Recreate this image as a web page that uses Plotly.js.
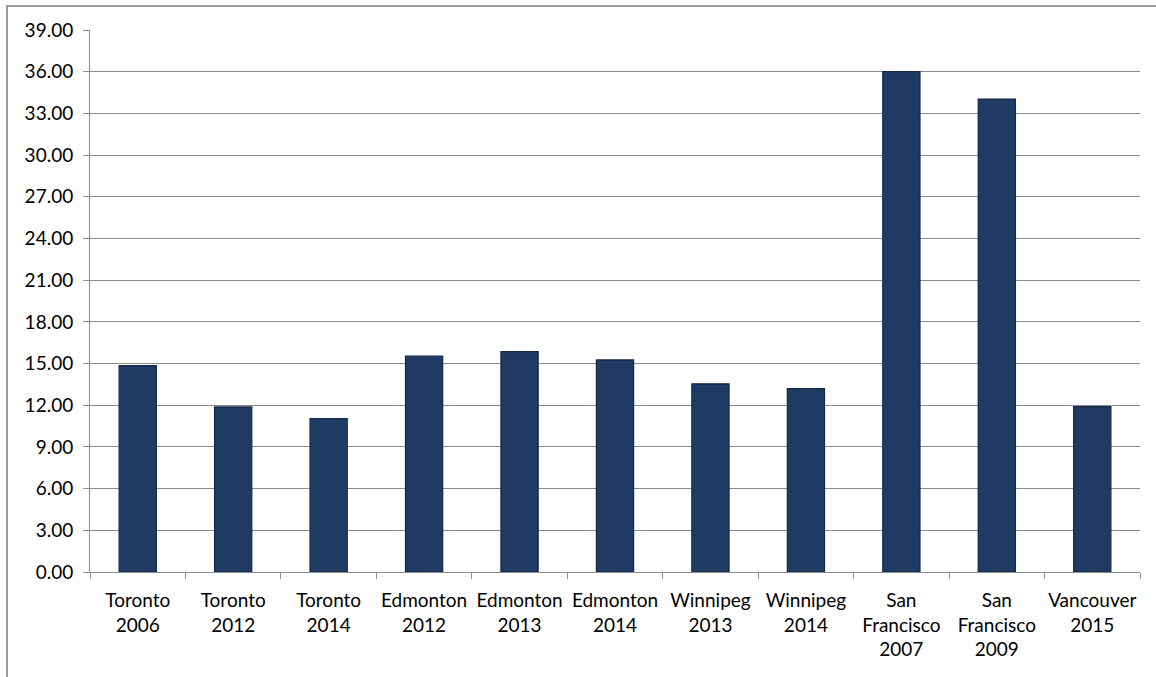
<!DOCTYPE html>
<html>
<head>
<meta charset="utf-8">
<script src="https://cdn.plot.ly/plotly-3.0.1.min.js"></script>
<style>
  html, body { margin: 0; padding: 0; background: #fff; }
  #wrap { position: relative; width: 1156px; height: 677px; overflow: hidden; }
  #chart { position: absolute; left: 0; top: 0; width: 1156px; height: 677px; }
  #frame { position: absolute; left: 6px; top: 5px; width: 1200px; height: 800px;
           border-left: 2px solid #9a9a9a; border-top: 2px solid #9a9a9a; pointer-events: none; }
</style>
</head>
<body>
<div id="wrap">
  <div id="chart"></div>
  <div id="frame"></div>
</div>
<script>
const categories = [
  "Toronto<br>2006", "Toronto<br>2012", "Toronto<br>2014",
  "Edmonton<br>2012", "Edmonton<br>2013", "Edmonton<br>2014",
  "Winnipeg<br>2013", "Winnipeg<br>2014",
  "San<br>Francisco<br>2007", "San<br>Francisco<br>2009",
  "Vancouver<br>2015"
];
const values = [14.85, 11.88, 11.03, 15.53, 15.86, 15.26, 13.54, 13.19, 36.0, 34.03, 11.9];
const yTickVals = [0, 3, 6, 9, 12, 15, 18, 21, 24, 27, 30, 33, 36, 39];

const trace = {
  type: "bar",
  x: categories,
  y: values,
  marker: { color: "#1f3b63", line: { color: "#14284a", width: 1.2 } },
  hoverinfo: "x+y"
};

const FONT = "Lato, 'Open Sans', sans-serif";

const layout = {
  width: 1156, height: 677,
  margin: { l: 90, r: 16, t: 30, b: 105 },
  paper_bgcolor: "#ffffff",
  plot_bgcolor: "#ffffff",
  showlegend: false,
  bargap: 0.61,
  font: { family: FONT, size: 19, color: "#000" },
  xaxis: {
    type: "category",
    showgrid: false,
    showline: true, linecolor: "#8c8c8c", linewidth: 1,
    ticks: "outside", ticklen: 6, tickcolor: "#8c8c8c",
    tickson: "boundaries",
    tickangle: 0,
    ticklabelstandoff: 11,
    tickfont: { size: 19, family: FONT, color: "#000" },
    automargin: false
  },
  yaxis: {
    range: [0, 39],
    tickvals: yTickVals,
    tickformat: ".2f",
    showgrid: true, gridcolor: "#8c8c8c", gridwidth: 1,
    showline: true, linecolor: "#8c8c8c", linewidth: 1,
    ticks: "outside", ticklen: 6, tickcolor: "#8c8c8c",
    ticklabelstandoff: 6,
    zeroline: false,
    tickfont: { size: 19, family: FONT, color: "#000" },
    automargin: false
  }
};

Plotly.newPlot("chart", [trace], layout, { displayModeBar: false, staticPlot: true });
</script>
</body>
</html>
